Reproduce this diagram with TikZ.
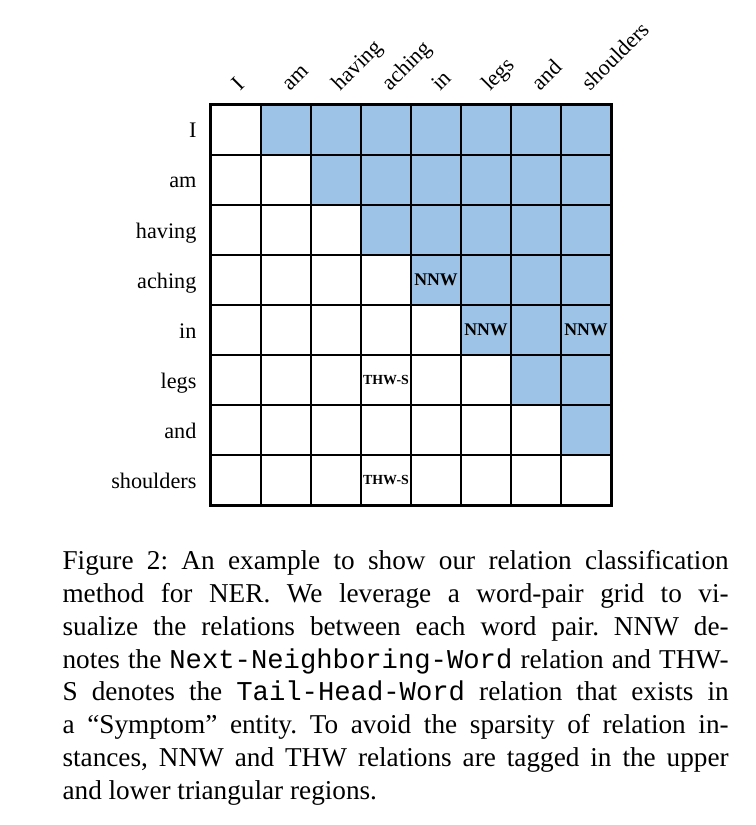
\documentclass[tikz,border=0pt]{standalone}
\usepackage{fontspec}
\setmainfont{Liberation Serif}
\setmonofont{Liberation Mono}
\usepackage{xcolor}
\usepackage{tikz}
\usetikzlibrary{positioning,calc}
\definecolor{pairblue}{HTML}{9DC3E6}
\frenchspacing
\begin{document}
\begin{tikzpicture}[
    x=0.36pt, y=0.36pt,
    cell/.style={rectangle, draw=black, line width=0.7pt, minimum size=18pt, inner sep=0pt},
    rowlab/.style={anchor=base east, inner sep=0pt, font=\fontsize{8}{9.6}\selectfont},
    collab/.style={anchor=base west, rotate=45, inner sep=0pt, font=\fontsize{8}{9.6}\selectfont},
    nnw/.style={font=\fontsize{6.4}{7}\selectfont\bfseries, inner sep=0pt},
    thws/.style={font=\fontsize{5}{6}\selectfont\bfseries, inner sep=0pt},
    caption/.style={anchor=north west, inner sep=0pt, text width=239.8pt, align=justify, font=\fontsize{9.8}{11.8}\selectfont},
]
\useasboundingbox (-211,105) rectangle (544,-720);

% Word-pair grid (upper triangle shaded)
\foreach \i in {1,...,8}
  \foreach \j in {1,...,8} {
    \pgfmathtruncatemacro\shade{\j>\i ? 100 : 0}
    \node[cell, fill=pairblue!\shade!white] (c\i-\j) at ({50*\j-25}, {-50*\i+25}) {};
  }
\draw[line width=1pt] (c1-1.north west) rectangle (c8-8.south east);

% Row and column words
\foreach \w [count=\i] in {I,am,having,aching,in,legs,and,shoulders} {
  \node[rowlab] (row\i) at (-14, {-50*\i+17}) {\w};
  \node[collab] (col\i) at ({50*\i-21}, 13) {\w};
}

% Relation tags
\node[nnw] (nnw1) at (c4-5) {NNW};
\node[nnw] (nnw2) at (c5-6) {NNW};
\node[nnw] (nnw3) at (c5-8) {NNW};
\node[thws] (thw1) at (c6-4) {THW-S};
\node[thws] (thw2) at (c8-4) {THW-S};

% Caption
\node[caption] (cap) at (-149,-445) {Figure 2: An example to show our relation classification\linebreak
method for NER. We leverage a word-pair grid to vi-\linebreak
sualize the relations between each word pair. NNW de-\linebreak
notes the \texttt{Next-Neighboring-Word} relation and THW-\linebreak
S denotes the \texttt{Tail-Head-Word} relation that exists in\linebreak
a “Symptom” entity. To avoid the sparsity of relation in-\linebreak
stances, NNW and THW relations are tagged in the upper\linebreak
and lower triangular regions.};

\end{tikzpicture}
\end{document}
